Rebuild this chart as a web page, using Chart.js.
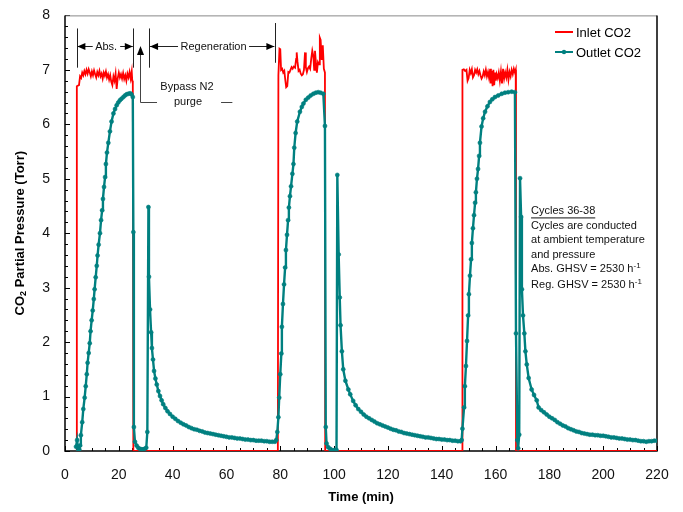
<!DOCTYPE html>
<html>
<head>
<meta charset="utf-8">
<script src="https://cdn.jsdelivr.net/npm/chart.js@4.4.0/dist/chart.umd.min.js"></script>
<style>
  html, body { margin: 0; padding: 0; background: #fff; }
  #wrap { width: 683px; height: 512px; }
</style>
</head>
<body>
<div id="wrap"><canvas id="co2Chart" width="683" height="512"></canvas></div>
<script>
// Inlet CO2 (Torr) vs time (min)
const inletTime = [
  4.2, 4.4, 5.2, 5.6, 6.0, 6.4, 6.8, 7.2, 7.6, 8.0, 8.4, 8.8, 9.2, 9.6, 10.0, 10.4, 10.8, 11.2, 11.6, 12.0,
  12.4, 12.8, 13.2, 13.6, 14.0, 14.4, 14.8, 15.2, 15.6, 16.0, 16.4, 16.8, 17.2, 17.6, 18.0, 18.4, 18.8, 19.2,
  19.6, 20.0, 20.4, 20.8, 21.2, 21.6, 22.0, 22.4, 22.8, 23.2, 23.6, 24.0, 24.4, 24.8, 25.0, 25.2, 25.4,
  79.1, 79.3, 79.7, 80.0, 80.3, 80.7, 81.1, 81.5, 81.9, 82.2, 82.6, 83.0, 83.4, 83.8, 84.2, 84.6, 85.0, 85.5,
  85.9, 86.1, 86.4, 86.8, 87.2, 87.6, 88.0, 88.4, 88.8, 89.2, 89.5, 89.9, 90.3, 90.7, 91.1, 91.5, 91.9, 92.3,
  92.6, 92.9, 93.3, 93.6, 94.0, 94.4, 94.7, 95.0, 95.4, 95.8, 96.2, 96.6, 96.7,
  147.6, 147.7, 148.2, 148.7, 149.2, 149.6, 150.0, 150.4, 150.8, 151.2, 151.6, 152.0, 152.4, 152.8, 153.2,
  153.6, 154.0, 154.4, 154.8, 155.2, 155.6, 156.0, 156.4, 156.8, 157.2, 157.6, 158.0, 158.3, 158.6, 158.9,
  159.2, 159.5, 159.8, 160.1, 160.4, 160.8, 161.2, 161.6, 162.0, 162.4, 162.8, 163.2, 163.6, 164.0, 164.4,
  164.8, 165.2, 165.6, 166.0, 166.4, 166.8, 167.2, 167.5, 167.6, 220
];
const inletCO2 = [
  0, 6.70, 6.72, 6.88, 6.85, 6.95, 6.90, 6.98, 6.92, 7.00, 6.93, 7.01, 6.95, 6.88, 6.97, 6.90, 6.99, 6.92, 6.86, 6.96,
  6.90, 6.98, 6.88, 6.93, 6.84, 6.95, 6.89, 6.97, 6.86, 6.92, 6.82, 6.90, 6.78, 6.72, 6.88, 6.80, 6.93, 6.65,
  6.85, 6.95, 6.86, 6.92, 6.84, 6.94, 6.83, 6.90, 6.80, 6.93, 6.86, 6.96, 6.84, 6.97, 6.80, 6.75, 0,
  0, 6.90, 7.39, 7.38, 7.00, 7.02, 6.95, 6.98, 6.80, 6.68, 6.70, 6.96, 6.95, 7.00, 7.05, 7.02, 7.06, 7.04,
  7.20, 7.32, 7.15, 6.98, 7.00, 6.93, 6.90, 6.92, 7.00, 7.32, 7.05, 6.96, 7.03, 7.06, 7.02, 7.20, 7.35, 7.25,
  7.00, 7.35, 7.10, 6.95, 7.14, 7.10, 7.59, 7.55, 7.18, 7.45, 7.02, 6.95, 0,
  0, 7.00, 7.01, 6.98, 7.00, 6.80, 6.85, 7.00, 6.94, 7.01, 6.86, 6.90, 7.00, 6.95, 7.01,
  6.92, 6.98, 6.90, 6.84, 6.88, 6.97, 6.90, 7.00, 6.88, 6.96, 6.85, 7.02, 6.75, 6.98, 6.70,
  7.00, 6.72, 6.95, 6.80, 6.92, 6.85, 6.95, 6.80, 6.97, 6.75, 7.02, 6.84, 6.95, 6.86, 7.00,
  6.82, 6.96, 6.88, 7.00, 6.92, 7.02, 6.95, 7.00, 0, 0
];

// Outlet CO2 (Torr) vs time (min)
const outletTime = [
  // cycle 36
  4.1, 4.5, 4.9, 5.3, 5.6, 5.9, 6.4, 6.8, 7.3, 7.7, 8.1, 8.4, 8.8, 9.2, 9.5, 9.9, 10.3, 10.7, 11.0, 11.4,
  11.8, 12.1, 12.5, 13.0, 13.4, 13.8, 14.1, 14.5, 14.9, 15.2, 15.6, 16.1, 16.7, 17.3, 18.0, 18.6, 19.2, 19.8,
  20.4, 21.0, 21.7, 22.3, 22.9, 23.5, 24.2, 24.7, 25.2, 25.4, 25.6, 26.0, 26.6, 27.2, 27.8, 28.4, 29.0, 29.6,
  30.2, 30.6, 31.0, 31.2, 31.6, 32.0, 32.3, 32.7, 33.1, 33.6, 34.1, 34.7, 35.3, 35.9, 36.5, 37.3, 38.1, 39.0,
  40, 41, 42, 43, 44, 45, 46, 47, 48, 49, 50, 51, 52, 53, 54, 55, 56, 57, 58, 59, 60, 61, 62, 63, 64, 65,
  66, 67, 68, 69, 70, 71, 72, 73, 74, 75, 76, 77, 78, 78.5,
  // cycle 37
  78.9, 79.3, 79.6, 80.0, 80.4, 80.6, 81.0, 81.4, 81.8, 82.1, 82.5, 82.9, 83.2, 83.6, 84.0, 84.5, 84.9, 85.2,
  85.7, 86.3, 87.3, 88.0, 88.6, 89.5, 90.4, 91.3, 92.3, 93.2, 94.1, 95.0, 96.0, 96.6, 96.9, 97.2, 97.8, 98.5,
  99.1, 99.7, 100.3, 100.9, 101.2, 101.7, 102.1, 102.4, 102.9, 103.4, 104.2, 105.3, 106, 107.1, 108, 109,
  110, 111, 112, 113, 114, 115, 116, 117, 118, 119, 120, 121, 122, 123, 124, 125, 126, 127, 128, 129, 130,
  131, 132, 133, 134, 135, 136, 137, 138, 139, 140, 141, 142, 143, 144, 145, 146, 147, 147.4,
  // cycle 38
  147.7, 148.3, 148.6, 149.0, 149.4, 149.8, 150.1, 150.5, 150.9, 151.2, 151.6, 152.0, 152.4, 152.7, 153.1,
  153.5, 153.9, 154.2, 154.8, 155.4, 156.1, 157.0, 157.9, 158.8, 159.8, 161.0, 162.3, 163.5, 164.7, 166.0,
  167.2, 167.6, 168.1, 168.4, 168.8, 169.1, 169.5, 169.8, 170.2, 170.7, 171.1, 171.6, 172.3, 173.4, 174.3,
  175.3, 176, 177, 178, 179, 180, 181, 182, 183, 184, 185, 186, 187, 188, 189, 190, 191, 192, 193, 194, 195,
  196, 197, 198, 199, 200, 201, 202, 203, 204, 205, 206, 207, 208, 209, 210, 211, 212, 213, 214, 215, 216,
  217, 218, 219, 220
];
const outletCO2 = [
  0.08, 0.20, 0.02, 0.03, 0.10, 0.29, 0.53, 0.77, 0.98, 1.19, 1.41, 1.62, 1.80, 1.98, 2.20, 2.40, 2.58, 2.79, 2.97, 3.19,
  3.40, 3.59, 3.79, 4.00, 4.24, 4.42, 4.63, 4.85, 5.03, 5.27, 5.48, 5.66, 5.87, 6.05, 6.20, 6.28, 6.35, 6.40,
  6.44, 6.47, 6.50, 6.53, 6.55, 6.56, 6.57, 6.55, 6.50, 4.02, 0.44, 0.17, 0.10, 0.06, 0.04, 0.03, 0.03, 0.04,
  0.06, 0.35, 4.48, 3.20, 2.60, 2.18, 1.89, 1.68, 1.47, 1.33, 1.22, 1.10, 1.01, 0.93, 0.86, 0.79, 0.73, 0.68,
  0.63, 0.59, 0.55, 0.52, 0.49, 0.47, 0.44, 0.42, 0.40, 0.39, 0.37, 0.36, 0.34, 0.33, 0.32, 0.31, 0.30, 0.29, 0.28, 0.27, 0.26, 0.25, 0.25, 0.24, 0.23, 0.23,
  0.22, 0.21, 0.21, 0.20, 0.20, 0.19, 0.19, 0.19, 0.18, 0.18, 0.17, 0.17, 0.17, 0.20,
  0.35, 0.62, 0.98, 1.41, 1.79, 2.28, 2.70, 3.06, 3.37, 3.69, 3.97, 4.24, 4.47, 4.68, 4.86, 5.09, 5.27, 5.57,
  5.84, 6.05, 6.23, 6.32, 6.38, 6.45, 6.49, 6.53, 6.56, 6.58, 6.59, 6.58, 6.56, 5.97, 0.44, 0.14, 0.07, 0.04,
  0.02, 0.01, 0.02, 0.02, 5.07, 3.61, 2.82, 2.31, 1.83, 1.50, 1.29, 1.13, 1.04, 0.92, 0.84, 0.77,
  0.72, 0.67, 0.63, 0.60, 0.57, 0.54, 0.51, 0.49, 0.47, 0.45, 0.43, 0.41, 0.39, 0.38, 0.36, 0.35, 0.33, 0.32, 0.31, 0.30, 0.29,
  0.28, 0.27, 0.26, 0.25, 0.25, 0.24, 0.23, 0.22, 0.22, 0.21, 0.21, 0.20, 0.20, 0.19, 0.19, 0.18, 0.18, 0.20,
  0.41, 0.80, 1.19, 1.56, 2.02, 2.49, 2.88, 3.22, 3.52, 3.82, 4.09, 4.33, 4.56, 4.75, 5.00,
  5.18, 5.42, 5.66, 5.96, 6.11, 6.23, 6.33, 6.41, 6.46, 6.50, 6.53, 6.56, 6.58, 6.59, 6.60,
  6.59, 2.16, 0.20, 0.05, 0.30, 5.01, 4.30, 2.97, 2.49, 2.16, 1.83, 1.59, 1.34, 1.13, 1.03,
  0.93, 0.80, 0.75, 0.71, 0.67, 0.63, 0.60, 0.57, 0.53, 0.50, 0.47, 0.45, 0.42, 0.40, 0.38, 0.36, 0.35, 0.33, 0.32, 0.31, 0.30,
  0.30, 0.29, 0.29, 0.28, 0.28, 0.27, 0.26, 0.25, 0.25, 0.24, 0.23, 0.23, 0.22, 0.21, 0.21, 0.20, 0.20, 0.19, 0.18, 0.18, 0.17,
  0.18, 0.18, 0.19, 0.19
];

// Notes in the upper right of the plot
const noteLines = [
  'Cycles 36-38',
  'Cycles are conducted',
  'at ambient temperature',
  'and pressure'
];
const ghsvLines = ['Abs. GHSV = 2530 h', 'Reg. GHSV = 2530 h'];

const FONT = '"Liberation Sans", Arial, sans-serif';
const RED = '#ff0000';
const TEAL = '#008080';

function toPoints(xs, ys) {
  return xs.map((t, i) => ({ x: t, y: ys[i] }));
}

// Draw inward ticks, axes and the plot border
const frame = {
  id: 'frame',
  beforeDatasetsDraw(chart) {
    const { ctx, chartArea: a, scales: { x, y } } = chart;
    ctx.save();
    ctx.strokeStyle = '#000';
    ctx.lineWidth = 1;
    ctx.beginPath();
    for (let t = 0; t <= 220; t += 5) {
      const px = Math.round(x.getPixelForValue(t)) + 0.5;
      const len = t % 20 === 0 ? 5 : 3;
      ctx.moveTo(px, a.bottom);
      ctx.lineTo(px, a.bottom - len);
    }
    for (let i = 0; i <= 40; i++) {
      const py = Math.round(y.getPixelForValue(i * 0.2)) + 0.5;
      const len = i % 5 === 0 ? 5 : 3;
      ctx.moveTo(a.left, py);
      ctx.lineTo(a.left + len, py);
    }
    ctx.stroke();
    // top border is lighter
    ctx.strokeStyle = '#888';
    ctx.beginPath();
    ctx.moveTo(a.left, a.top + 0.5);
    ctx.lineTo(a.right, a.top + 0.5);
    ctx.stroke();
    ctx.strokeStyle = '#000';
    ctx.lineWidth = 1.5;
    ctx.beginPath();
    ctx.moveTo(a.right, a.top);
    ctx.lineTo(a.right, a.bottom);
    ctx.lineTo(a.left, a.bottom);
    ctx.lineTo(a.left, a.top);
    ctx.stroke();
    ctx.restore();
  }
};

function arrowHead(ctx, x, y, dir) {
  // dir: 'l', 'r', 'u'
  ctx.beginPath();
  if (dir === 'l') { ctx.moveTo(x, y); ctx.lineTo(x + 8, y - 3.5); ctx.lineTo(x + 8, y + 3.5); }
  if (dir === 'r') { ctx.moveTo(x, y); ctx.lineTo(x - 8, y - 3.5); ctx.lineTo(x - 8, y + 3.5); }
  if (dir === 'u') { ctx.moveTo(x, y); ctx.lineTo(x - 3.5, y + 9); ctx.lineTo(x + 3.5, y + 9); }
  ctx.closePath();
  ctx.fill();
}

// Annotations, legend, notes and axis titles
const overlay = {
  id: 'overlay',
  afterDatasetsDraw(chart) {
    const { ctx, chartArea: a, scales: { x, y } } = chart;
    const px = t => x.getPixelForValue(t);
    const py = v => y.getPixelForValue(v);
    ctx.save();

    // cycle phase markers
    ctx.strokeStyle = '#222';
    ctx.fillStyle = '#000';
    ctx.lineWidth = 1;
    ctx.beginPath();
    [[4.35, 7.76, 7.04], [25.4, 7.76, 7.04], [31.3, 7.76, 7.04], [78.0, 7.86, 7.13]].forEach(([t, v1, v2]) => {
      ctx.moveTo(Math.round(px(t)) + 0.5, py(v1));
      ctx.lineTo(Math.round(px(t)) + 0.5, py(v2));
    });
    const ay = Math.round(py(7.44)) + 0.5;
    ctx.moveTo(px(4.6), ay); ctx.lineTo(px(10.3), ay);
    ctx.moveTo(px(20.5), ay); ctx.lineTo(px(25.2), ay);
    ctx.moveTo(px(31.6), ay); ctx.lineTo(px(42.0), ay);
    ctx.moveTo(px(68.4), ay); ctx.lineTo(px(77.8), ay);
    ctx.stroke();
    arrowHead(ctx, px(4.6), ay, 'l');
    arrowHead(ctx, px(25.2), ay, 'r');
    arrowHead(ctx, px(31.6), ay, 'l');
    arrowHead(ctx, px(77.8), ay, 'r');

    ctx.font = '11px ' + FONT;
    ctx.textAlign = 'center';
    ctx.textBaseline = 'middle';
    ctx.fillStyle = '#111';
    ctx.fillText('Abs.', px(15.3), ay);
    ctx.fillText('Regeneration', px(55.2), ay);

    // bypass purge pointer
    ctx.strokeStyle = '#444';
    ctx.fillStyle = '#000';
    const bx = Math.round(px(27.9)) + 0.5;
    const by = Math.round(py(6.41)) + 0.5;
    ctx.beginPath();
    ctx.moveTo(bx, py(7.36));
    ctx.lineTo(bx, by);
    ctx.lineTo(px(34.2), by);
    ctx.moveTo(px(58.0), by);
    ctx.lineTo(px(62.2), by);
    ctx.stroke();
    arrowHead(ctx, bx, py(7.44), 'u');
    ctx.fillStyle = '#111';
    ctx.fillText('Bypass N2', px(45.3), py(6.68));
    ctx.fillText('purge', px(45.7), py(6.41));

    // legend
    ctx.lineWidth = 2;
    ctx.strokeStyle = RED;
    ctx.beginPath();
    ctx.moveTo(555, 32); ctx.lineTo(573, 32);
    ctx.stroke();
    ctx.strokeStyle = TEAL;
    ctx.beginPath();
    ctx.moveTo(555, 52); ctx.lineTo(573, 52);
    ctx.stroke();
    ctx.fillStyle = TEAL;
    ctx.beginPath();
    ctx.arc(564, 52, 2.2, 0, Math.PI * 2);
    ctx.fill();
    ctx.fillStyle = '#000';
    ctx.font = '13px ' + FONT;
    ctx.textAlign = 'left';
    ctx.fillText('Inlet CO2', 576, 33);
    ctx.fillText('Outlet CO2', 576, 53);

    // notes
    ctx.font = '11px ' + FONT;
    ctx.fillStyle = '#111';
    const nx = px(173.2);
    let ny = py(4.4);
    noteLines.forEach((line, i) => {
      ctx.fillText(line, nx, ny + i * 14.5);
      if (i === 0) {
        const w = ctx.measureText(line).width;
        ctx.lineWidth = 1;
        ctx.strokeStyle = '#111';
        ctx.beginPath();
        ctx.moveTo(nx, ny + 6.5);
        ctx.lineTo(nx + w, ny + 6.5);
        ctx.stroke();
      }
    });
    ghsvLines.forEach((line, i) => {
      const ly = ny + 58 + i * 16;
      ctx.font = '11px ' + FONT;
      ctx.fillText(line, nx, ly);
      const w = ctx.measureText(line).width;
      ctx.font = '8px ' + FONT;
      ctx.fillText('-1', nx + w, ly - 4);
    });

    // axis titles
    ctx.fillStyle = '#000';
    ctx.font = 'bold 13px ' + FONT;
    ctx.textAlign = 'center';
    ctx.fillText('Time (min)', (a.left + a.right) / 2, 497);

    ctx.translate(20, (a.top + a.bottom) / 2);
    ctx.rotate(-Math.PI / 2);
    ctx.textAlign = 'left';
    const p1 = 'CO', p2 = '2', p3 = ' Partial Pressure (Torr)';
    ctx.font = 'bold 13px ' + FONT;
    const w1 = ctx.measureText(p1).width;
    const w3 = ctx.measureText(p3).width;
    ctx.font = 'bold 9px ' + FONT;
    const w2 = ctx.measureText(p2).width;
    let sx = -(w1 + w2 + w3) / 2;
    ctx.font = 'bold 13px ' + FONT;
    ctx.fillText(p1, sx, 0);
    ctx.font = 'bold 9px ' + FONT;
    ctx.fillText(p2, sx + w1, 4);
    ctx.font = 'bold 13px ' + FONT;
    ctx.fillText(p3, sx + w1 + w2, 0);

    ctx.restore();
  }
};

const ctx = document.getElementById('co2Chart').getContext('2d');
const chart = new Chart(ctx, {
  type: 'scatter',
  data: {
    datasets: [
      {
        label: 'Inlet CO2',
        data: toPoints(inletTime, inletCO2),
        showLine: true,
        borderColor: RED,
        borderWidth: 1.8,
        pointRadius: 0,
        order: 2
      },
      {
        label: 'Outlet CO2',
        data: toPoints(outletTime, outletCO2),
        showLine: true,
        borderColor: TEAL,
        backgroundColor: TEAL,
        borderWidth: 2.4,
        pointRadius: 2,
        pointBorderWidth: 0.6,
        order: 1
      }
    ]
  },
  options: {
    responsive: false,
    animation: false,
    layout: { padding: { top: 9, right: 26, left: 0, bottom: 0 } },
    plugins: {
      legend: { display: false },
      tooltip: { enabled: false }
    },
    scales: {
      x: {
        type: 'linear',
        min: 0,
        max: 220,
        grid: { display: false },
        border: { display: false },
        ticks: {
          stepSize: 20,
          autoSkip: false,
          maxRotation: 0,
          padding: 8,
          color: '#111',
          font: { family: FONT, size: 14 }
        },
        afterFit: scale => { scale.height = 61; }
      },
      y: {
        min: 0,
        max: 8,
        grid: { display: false },
        border: { display: false },
        ticks: {
          stepSize: 1,
          padding: 7,
          color: '#111',
          font: { family: FONT, size: 14 }
        },
        afterFit: scale => { scale.width = 65; }
      }
    }
  },
  plugins: [frame, overlay]
});
</script>
</body>
</html>
